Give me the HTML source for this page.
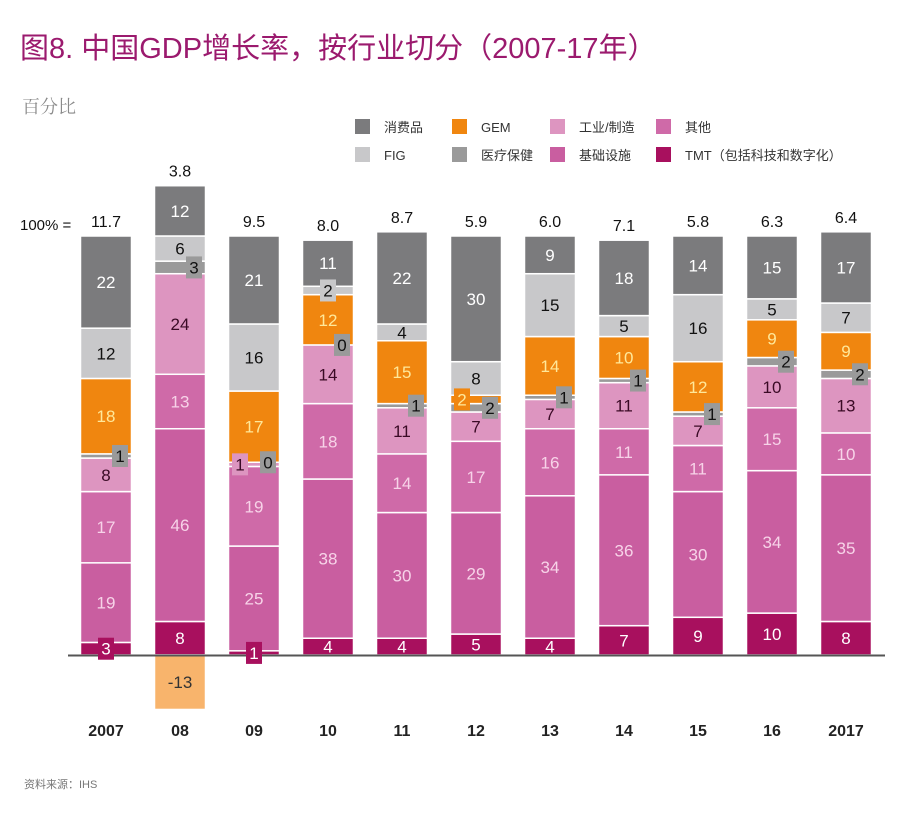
<!DOCTYPE html>
<html><head><meta charset="utf-8"><style>
body{margin:0;background:#fff;width:919px;height:810px;overflow:hidden;font-family:"Liberation Sans","Noto Sans CJK SC",sans-serif}
</style></head><body>
<svg id="chart" width="919" height="810" xmlns="http://www.w3.org/2000/svg" font-family="Liberation Sans, Noto Sans CJK SC, sans-serif">
<text x="20" y="58" font-size="29" fill="#9b1a6e" font-family="Liberation Sans, Noto Sans CJK SC, sans-serif">图8. 中国GDP增长率，按行业切分（2007-17年）</text>
<text x="22" y="113" font-size="18" fill="#8a8a8a" font-family="Noto Serif CJK SC, serif">百分比</text>
<text x="20" y="230" font-size="15" fill="#111">100% =</text>
<text x="24" y="788" font-size="11" fill="#777">资料来源：IHS</text>
<g id="legend"></g>
<g id="bars"></g>
<line x1="68" y1="655.5" x2="885" y2="655.5" stroke="#555" stroke-width="2"/>
<g id="labels"></g>
</svg>
<script>
const years=["2007","08","09","10","11","12","13","14","15","16","2017"];
const totals=["11.7","3.8","9.5","8.0","8.7","5.9","6.0","7.1","5.8","6.3","6.4"];
const tmt=[3,8,1,4,4,5,4,7,9,10,8];
const infra=[19,46,25,38,30,29,34,36,30,34,35];
const other=[17,13,19,18,14,17,16,11,11,15,10];
const industry=[8,24,1,14,11,7,7,11,7,10,13];
const health=[1,3,0,0,1,2,1,1,1,2,2];
const gem=[18,-13,17,12,15,2,14,10,12,9,9];
const fig=[12,6,16,2,4,8,15,5,16,5,7];
const consumer=[22,12,21,11,22,30,9,18,14,15,17];
const series=[
 {n:"tmt",v:tmt,c:"#a8105e",t:"#fff",l:"TMT（包括科技和数字化）"},
 {n:"infrastructure",v:infra,c:"#c95ea0",t:"#f7d3e8",l:"基础设施"},
 {n:"other",v:other,c:"#cf6aa8",t:"#f7d3e8",l:"其他"},
 {n:"industry",v:industry,c:"#dd95c0",t:"#3a0a25",l:"工业/制造"},
 {n:"healthcare",v:health,c:"#9a9a9a",t:"#111",l:"医疗保健"},
 {n:"gem",v:gem,c:"#f0860f",t:"#ffe89a",l:"GEM"},
 {n:"fig",v:fig,c:"#c8c8ca",t:"#111",l:"FIG"},
 {n:"consumer",v:consumer,c:"#7b7b7d",t:"#fff",l:"消费品"}];
const NS="http://www.w3.org/2000/svg";
const base=655, k=4.19, x0=106, dx=74, bw=51;
const yS=v=>base-v*k;
const xS=i=>x0+i*dx;
function mk(tag,at,par){const e=document.createElementNS(NS,tag);for(const a in at)e.setAttribute(a,at[a]);par.appendChild(e);return e;}
const bars=document.getElementById('bars');
const labels=document.getElementById('labels');
years.forEach((y,i)=>{
 const g=mk('g',{},bars);
 
 
 const lg=mk('g',{},labels);
 
 
 let cum=0;
 series.forEach((s,si)=>{
  const v=s.v[i];
  let y1,y2,col=s.c;
  if(v<0){y1=base;y2=yS(v);col="#f8b46c";}
  else{y1=yS(cum+v);y2=yS(cum);cum+=v;}
  const top=Math.min(y1,y2),h=Math.abs(y2-y1);
  if(h>0){const r=mk('rect',{x:xS(i)-bw/2,y:top,width:bw,height:h,fill:col,stroke:"#fff","stroke-width":1.5},g);
   
   }
  const cy=top+h/2;
  let lx=xS(i);
  if(v<=3&&v>=0){
   if(s.n==="healthcare")lx+=14;
   if(s.n==="gem")lx-=14;
   if(s.n==="industry")lx-=14;
   const b=mk('rect',{x:lx-8,y:cy-11,width:16,height:22,fill:s.c},lg);
   
   
  }
  const t=mk('text',{x:lx,y:cy+6,"text-anchor":"middle","font-size":17,fill:v<0?"#333":s.t},lg);
  t.textContent=v;
  
  
 });
 const tt=mk('text',{x:xS(i),y:yS(cum)-9,"text-anchor":"middle","font-size":16,fill:"#111"},lg);
 tt.textContent=totals[i];
 
 
 const yl=mk('text',{x:xS(i),y:736,"text-anchor":"middle","font-size":16,"font-weight":"bold",fill:"#222"},lg);
 yl.textContent=y;
 
 
});
const leg=document.getElementById('legend');
const lorder=[["consumer",0,0],["gem",1,0],["industry",2,0],["other",3,0],["fig",0,1],["healthcare",1,1],["infrastructure",2,1],["tmt",3,1]];
const lx=[355,452,550,656];
lorder.forEach(([n,c,r])=>{
 const s=series.find(q=>q.n===n);
 const g=mk('g',{},leg);
 
 
 mk('rect',{x:lx[c],y:119+r*28,width:15,height:15,fill:s.c},g);
 const t=mk('text',{x:lx[c]+29,y:132+r*28,"font-size":13,fill:"#333"},g);
 t.textContent=s.l;
});
</script>
</body></html>
